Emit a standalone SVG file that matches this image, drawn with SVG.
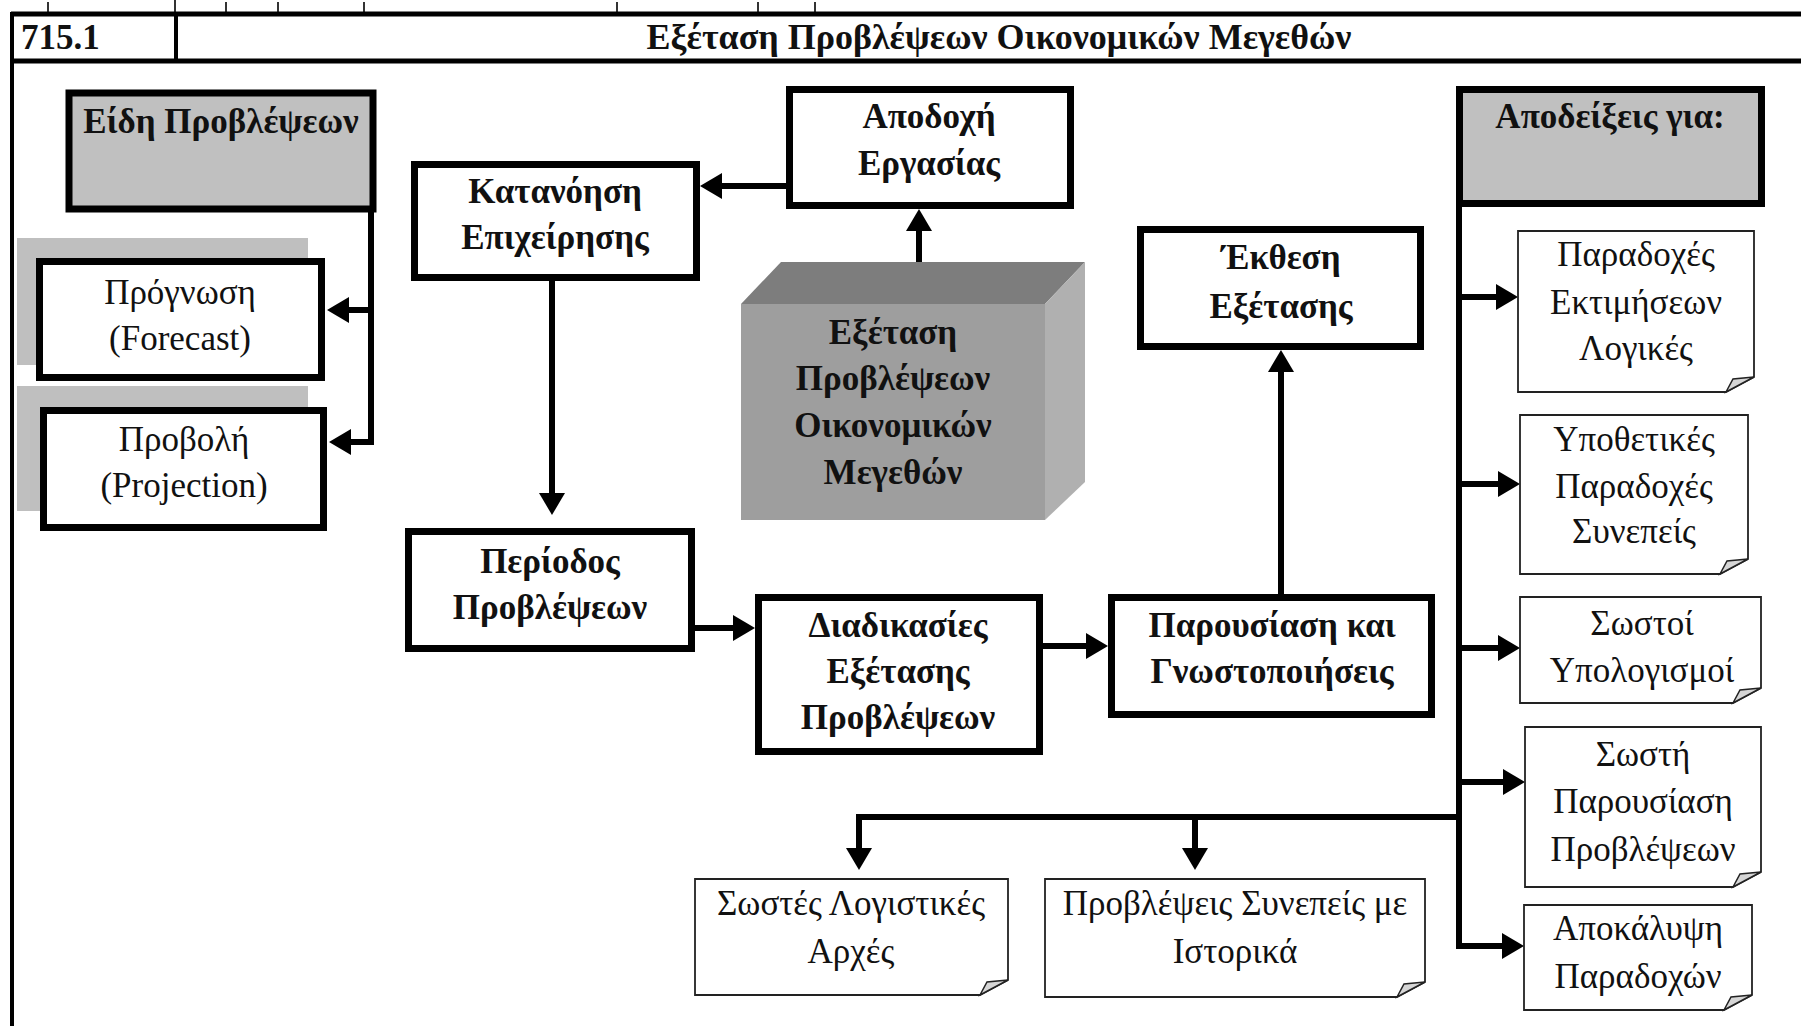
<svg xmlns="http://www.w3.org/2000/svg" width="1801" height="1026" viewBox="0 0 1801 1026">
<defs>
<style>
.frame{stroke:#000;fill:none}
.box{fill:#fff;stroke:#000;stroke-width:7}
.gbox{fill:#c0c0c0;stroke:#000;stroke-width:7}
.shadow{fill:#bfbfbf}
.note{fill:#fff;stroke:#222;stroke-width:1.8}
.curl{fill:#d6d6d6;stroke:#222;stroke-width:1.5}
.b{font-family:"Liberation Serif","Times New Roman",serif;font-weight:bold;font-size:35px;fill:#111;text-anchor:middle}
.r{font-family:"Liberation Serif","Times New Roman",serif;font-size:35px;fill:#111;text-anchor:middle}
.conn{fill:none;stroke:#000;stroke-width:6}
.tick{stroke:#333;stroke-width:2}
</style>
<marker id="ah" markerUnits="userSpaceOnUse" markerWidth="24" markerHeight="28" refX="2" refY="13" orient="auto">
<path d="M0,0 L22,13 L0,26 Z" fill="#000"/>
</marker>
</defs>
<rect width="1801" height="1026" fill="#fff"/>

<g id="frame">
<line class="tick" x1="48" y1="2" x2="48" y2="12"/>
<line class="tick" x1="175" y1="0" x2="175" y2="12"/>
<line class="tick" x1="226" y1="2" x2="226" y2="12"/>
<line class="tick" x1="278" y1="2" x2="278" y2="12"/>
<line class="tick" x1="364" y1="2" x2="364" y2="12"/>
<line class="tick" x1="617" y1="2" x2="617" y2="12"/>
<line class="tick" x1="758" y1="2" x2="758" y2="12"/>
<line class="tick" x1="815" y1="2" x2="815" y2="12"/>
<line class="frame" x1="11" y1="14" x2="1801" y2="14" stroke-width="5"/>
<line class="frame" x1="11" y1="61" x2="1801" y2="61" stroke-width="5"/>
<line class="frame" x1="12" y1="12" x2="12" y2="1026" stroke-width="4"/>
<line class="frame" x1="176" y1="14" x2="176" y2="61" stroke-width="4"/>
<text class="b" x="21" y="49" style="text-anchor:start">715.1</text>
<text class="b" x="999" y="49" style="font-size:36px">Εξέταση Προβλέψεων Οικονομικών Μεγεθών</text>
</g>

<g id="connectors">
<path class="conn" d="M371,212 V442 H349" marker-end="url(#ah)"/>
<path class="conn" d="M371,310 H347" marker-end="url(#ah)"/>
<path class="conn" d="M786,186 H720" marker-end="url(#ah)"/>
<path class="conn" d="M919,262 V229" marker-end="url(#ah)"/>
<path class="conn" d="M552,281 V495" marker-end="url(#ah)"/>
<path class="conn" d="M695,628 H735" marker-end="url(#ah)"/>
<path class="conn" d="M1043,646 H1088" marker-end="url(#ah)"/>
<path class="conn" d="M1281,594 V370" marker-end="url(#ah)"/>
<path class="conn" d="M1459,207 V946 H1504" marker-end="url(#ah)"/>
<path class="conn" d="M1459,297 H1498" marker-end="url(#ah)"/>
<path class="conn" d="M1459,484 H1500" marker-end="url(#ah)"/>
<path class="conn" d="M1459,648 H1500" marker-end="url(#ah)"/>
<path class="conn" d="M1459,782 H1505" marker-end="url(#ah)"/>
<path class="conn" d="M1459,817 H859 V850" marker-end="url(#ah)"/>
<path class="conn" d="M1195,817 V850" marker-end="url(#ah)"/>
</g>

<g id="eidh">
<rect class="gbox" x="69" y="93" width="304" height="116"/>
<text class="b" x="221" y="133">Είδη Προβλέψεων</text>
</g>
<g id="prognosi">
<rect class="shadow" x="17" y="238" width="291" height="127"/>
<rect class="box" x="39.5" y="261.5" width="282" height="116"/>
<text class="r" x="180" y="304">Πρόγνωση</text>
<text class="r" x="180" y="350">(Forecast)</text>
</g>
<g id="provoli">
<rect class="shadow" x="17" y="386" width="291" height="125"/>
<rect class="box" x="43.5" y="410.5" width="280" height="117"/>
<text class="r" x="184" y="451">Προβολή</text>
<text class="r" x="184" y="497">(Projection)</text>
</g>
<g id="katanoisi">
<rect class="box" x="414.5" y="164.5" width="282" height="113"/>
<text class="b" x="555" y="203">Κατανόηση</text>
<text class="b" x="555" y="249">Επιχείρησης</text>
</g>
<g id="apodoxi">
<rect class="box" x="789.5" y="89.5" width="281" height="116"/>
<text class="b" x="929" y="128">Αποδοχή</text>
<text class="b" x="929" y="175">Εργασίας</text>
</g>
<g id="cube">
<polygon points="741,304 781,262 1085,262 1045,304" fill="#7d7d7d"/>
<polygon points="1045,304 1085,262 1085,482 1045,520" fill="#b0b0b0"/>
<rect x="741" y="304" width="304" height="216" fill="#9e9e9e"/>
<text class="b" x="893" y="344">Εξέταση</text>
<text class="b" x="893" y="390">Προβλέψεων</text>
<text class="b" x="893" y="437">Οικονομικών</text>
<text class="b" x="893" y="484">Μεγεθών</text>
</g>
<g id="periodos">
<rect class="box" x="408.5" y="531.5" width="283" height="117"/>
<text class="b" x="550" y="573">Περίοδος</text>
<text class="b" x="550" y="619">Προβλέψεων</text>
</g>
<g id="diadikasies">
<rect class="box" x="758.5" y="597.5" width="281" height="154"/>
<text class="b" x="898" y="637">Διαδικασίες</text>
<text class="b" x="898" y="683">Εξέτασης</text>
<text class="b" x="898" y="729">Προβλέψεων</text>
</g>
<g id="parousiasi">
<rect class="box" x="1111.5" y="597.5" width="320" height="117"/>
<text class="b" x="1272" y="637">Παρουσίαση και</text>
<text class="b" x="1272" y="683">Γνωστοποιήσεις</text>
</g>
<g id="ekthesi">
<rect class="box" x="1140.5" y="229.5" width="280" height="117"/>
<text class="b" x="1281" y="269">Έκθεση</text>
<text class="b" x="1281" y="318">Εξέτασης</text>
</g>
<g id="apodeixeis">
<rect class="gbox" x="1459.5" y="89.5" width="302" height="114"/>
<text class="b" x="1610" y="128">Αποδείξεις για:</text>
</g>

<g id="note1">
<path class="note" d="M1518,231 H1754 V377 L1726,392 H1518 Z"/>
<path class="curl" d="M1726,392 L1733,379 L1754,377 Z"/>
<text class="r" x="1636" y="266">Παραδοχές</text>
<text class="r" x="1636" y="314">Εκτιμήσεων</text>
<text class="r" x="1636" y="360">Λογικές</text>
</g>
<g id="note2">
<path class="note" d="M1520,415 H1748 V559 L1720,574 H1520 Z"/>
<path class="curl" d="M1720,574 L1727,561 L1748,559 Z"/>
<text class="r" x="1634" y="451">Υποθετικές</text>
<text class="r" x="1634" y="498">Παραδοχές</text>
<text class="r" x="1634" y="543">Συνεπείς</text>
</g>
<g id="note3">
<path class="note" d="M1520,597 H1761 V688 L1733,703 H1520 Z"/>
<path class="curl" d="M1733,703 L1740,690 L1761,688 Z"/>
<text class="r" x="1642" y="635">Σωστοί</text>
<text class="r" x="1642" y="682">Υπολογισμοί</text>
</g>
<g id="note4">
<path class="note" d="M1525,727 H1761 V872 L1733,887 H1525 Z"/>
<path class="curl" d="M1733,887 L1740,874 L1761,872 Z"/>
<text class="r" x="1643" y="766">Σωστή</text>
<text class="r" x="1643" y="813">Παρουσίαση</text>
<text class="r" x="1643" y="861">Προβλέψεων</text>
</g>
<g id="note5">
<path class="note" d="M1524,905 H1752 V995 L1724,1010 H1524 Z"/>
<path class="curl" d="M1724,1010 L1731,997 L1752,995 Z"/>
<text class="r" x="1638" y="940">Αποκάλυψη</text>
<text class="r" x="1638" y="988">Παραδοχών</text>
</g>
<g id="note6">
<path class="note" d="M695,879 H1008 V980 L980,995 H695 Z"/>
<path class="curl" d="M980,995 L987,982 L1008,980 Z"/>
<text class="r" x="851" y="915">Σωστές Λογιστικές</text>
<text class="r" x="851" y="963">Αρχές</text>
</g>
<g id="note7">
<path class="note" d="M1045,879 H1425 V982 L1397,997 H1045 Z"/>
<path class="curl" d="M1397,997 L1404,984 L1425,982 Z"/>
<text class="r" x="1235" y="915">Προβλέψεις Συνεπείς με</text>
<text class="r" x="1235" y="963">Ιστορικά</text>
</g>
</svg>
